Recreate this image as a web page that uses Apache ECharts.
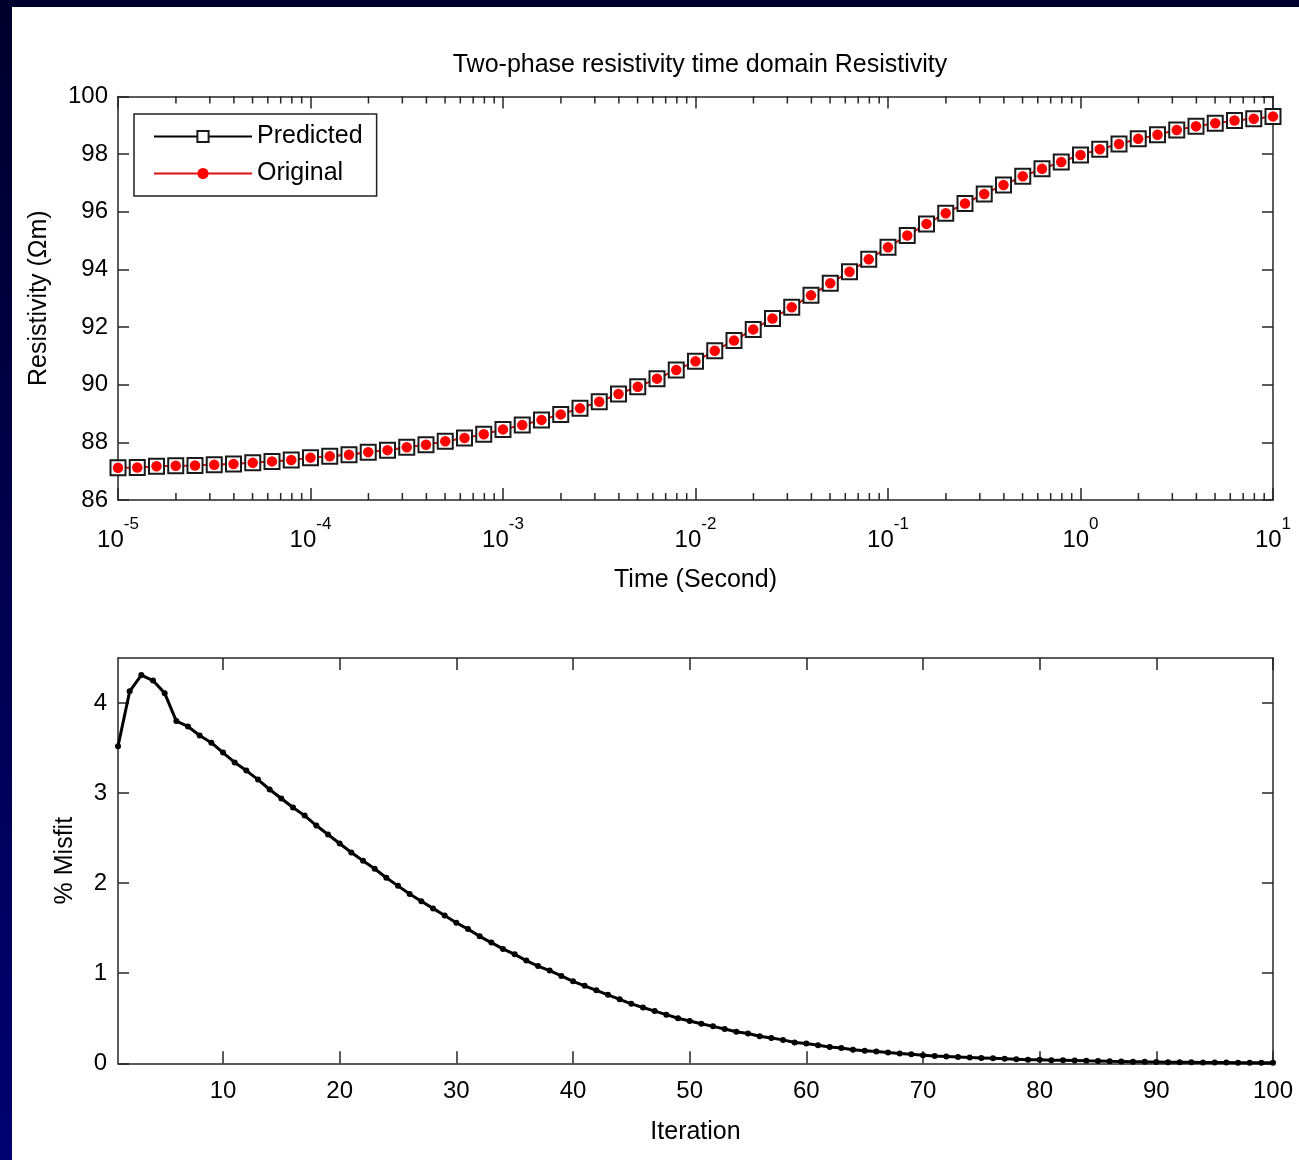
<!DOCTYPE html>
<html>
<head>
<meta charset="utf-8">
<title>Two-phase resistivity</title>
<script src="https://cdn.jsdelivr.net/npm/echarts@6/dist/echarts.min.js"></script>
<style>
  html, body {
    margin: 0;
    padding: 0;
    width: 1299px;
    height: 1160px;
    overflow: hidden;
    background: linear-gradient(#00002c, #000070);
  }
  #chart {
    position: absolute;
    left: 12px;
    top: 7px;
    width: 1287px;
    height: 1153px;
    background: #fff;
  }
</style>
</head>
<body>
<div id="chart"></div>
<script>
// time samples (s), 10 per decade
const times = [
  1.000e-5, 1.259e-5, 1.585e-5, 1.995e-5, 2.512e-5, 3.162e-5, 3.981e-5, 5.012e-5, 6.310e-5, 7.943e-5,
  1.000e-4, 1.259e-4, 1.585e-4, 1.995e-4, 2.512e-4, 3.162e-4, 3.981e-4, 5.012e-4, 6.310e-4, 7.943e-4,
  1.000e-3, 1.259e-3, 1.585e-3, 1.995e-3, 2.512e-3, 3.162e-3, 3.981e-3, 5.012e-3, 6.310e-3, 7.943e-3,
  1.000e-2, 1.259e-2, 1.585e-2, 1.995e-2, 2.512e-2, 3.162e-2, 3.981e-2, 5.012e-2, 6.310e-2, 7.943e-2,
  1.000e-1, 1.259e-1, 1.585e-1, 1.995e-1, 2.512e-1, 3.162e-1, 3.981e-1, 5.012e-1, 6.310e-1, 7.943e-1,
  1.000, 1.259, 1.585, 1.995, 2.512, 3.162, 3.981, 5.012, 6.310, 7.943,
  10.0
];
const original = [
  87.12, 87.13, 87.17, 87.19, 87.20, 87.22, 87.25, 87.29, 87.34, 87.39,
  87.47, 87.52, 87.57, 87.66, 87.73, 87.83, 87.92, 88.04, 88.15, 88.28,
  88.45, 88.60, 88.78, 88.97, 89.18, 89.41, 89.68, 89.93, 90.21, 90.51,
  90.81, 91.18, 91.53, 91.92, 92.30, 92.69, 93.10, 93.52, 93.92, 94.35,
  94.77, 95.18, 95.58, 95.95, 96.29, 96.62, 96.93, 97.23, 97.49, 97.73,
  97.97, 98.17, 98.35, 98.53, 98.67, 98.84, 98.97, 99.07, 99.17, 99.23,
  99.31
];
const predicted = [
  87.12, 87.13, 87.17, 87.19, 87.20, 87.22, 87.25, 87.29, 87.34, 87.39,
  87.47, 87.52, 87.57, 87.66, 87.73, 87.83, 87.92, 88.04, 88.15, 88.28,
  88.45, 88.60, 88.78, 88.97, 89.18, 89.41, 89.68, 89.93, 90.21, 90.51,
  90.81, 91.18, 91.53, 91.92, 92.30, 92.69, 93.10, 93.52, 93.92, 94.35,
  94.77, 95.18, 95.58, 95.95, 96.29, 96.62, 96.93, 97.23, 97.49, 97.73,
  97.97, 98.17, 98.35, 98.53, 98.67, 98.84, 98.97, 99.07, 99.17, 99.23,
  99.31
];
// % misfit per iteration (1..100)
const misfit = [
  3.52, 4.13, 4.31, 4.25, 4.11, 3.80, 3.74, 3.64, 3.56, 3.45,
  3.34, 3.25, 3.15, 3.04, 2.94, 2.84, 2.75, 2.64, 2.54, 2.44,
  2.34, 2.25, 2.16, 2.06, 1.97, 1.88, 1.80, 1.72, 1.64, 1.56,
  1.49, 1.41, 1.34, 1.27, 1.21, 1.14, 1.08, 1.03, 0.97, 0.91,
  0.86, 0.81, 0.76, 0.71, 0.66, 0.62, 0.58, 0.54, 0.50, 0.47,
  0.44, 0.41, 0.38, 0.35, 0.33, 0.30, 0.28, 0.26, 0.23, 0.22,
  0.20, 0.18, 0.17, 0.15, 0.14, 0.13, 0.12, 0.11, 0.10, 0.09,
  0.08, 0.075, 0.07, 0.065, 0.06, 0.055, 0.05, 0.045, 0.04, 0.04,
  0.035, 0.033, 0.03, 0.027, 0.025, 0.022, 0.02, 0.018, 0.016, 0.015,
  0.013, 0.012, 0.011, 0.01, 0.009, 0.008, 0.007, 0.006, 0.006, 0.005
];
const iterTicks = [10, 20, 30, 40, 50, 60, 70, 80, 90, 100];
const misfitTicks = [0, 1, 2, 3, 4];
const decades = [1e-5, 1e-4, 1e-3, 1e-2, 1e-1, 1];
const minorSteps = [2, 3, 4, 5, 6, 7, 8, 9];

const FONT = '"Liberation Sans", Arial, sans-serif';
const AXIS_COLOR = '#262626';

// minor ticks of the log axis
const minorTicks = [];
decades.forEach((d) => {
  minorSteps.forEach((m) => minorTicks.push([d * m]));
});

const chart = echarts.init(document.getElementById('chart'));

const lineStyle = { color: AXIS_COLOR, width: 1.5 };
const nameStyle = { fontFamily: FONT, fontSize: 25, color: '#000' };

function boxAxis(extra) {
  // common look for the axes that make the box
  return Object.assign({
    axisLine: { show: true, onZero: false, lineStyle: lineStyle },
    axisTick: { show: true, inside: true, length: 12, lineStyle: lineStyle },
    splitLine: { show: false },
    axisLabel: { show: false },
  }, extra);
}

const option = {
  animation: false,
  textStyle: { fontFamily: FONT, color: '#000' },
  title: {
    text: 'Two-phase resistivity time domain Resistivity',
    left: 683,
    top: 41,
    textAlign: 'center',
    textStyle: { fontFamily: FONT, fontSize: 25, fontWeight: 'normal', color: '#000' },
  },
  legend: {
    data: ['Predicted', 'Original'],
    orient: 'vertical',
    left: 122,
    top: 107,
    itemWidth: 98,
    itemHeight: 14,
    itemGap: 12,
    padding: [10, 14, 10, 19],
    borderColor: '#222',
    borderWidth: 1.5,
    backgroundColor: '#fff',
    selectedMode: false,
    textStyle: { fontFamily: FONT, fontSize: 25, color: '#000' },
  },
  grid: [
    { left: 106, top: 89.5, width: 1155, height: 403.5 },
    { left: 106, top: 651, width: 1155, height: 405.3 },
  ],
  xAxis: [
    boxAxis({
      type: 'log',
      logBase: 10,
      gridIndex: 0,
      min: 1e-5,
      max: 10,
      splitNumber: 6,
      axisLabel: {
        show: true,
        margin: 16,
        formatter: (v) => '{b|10}{s|' + Math.round(Math.log10(v)) + '}',
        rich: {
          b: { fontFamily: FONT, fontSize: 24, lineHeight: 36, verticalAlign: 'bottom', color: '#000' },
          s: { fontFamily: FONT, fontSize: 17, verticalAlign: 'top', color: '#000' },
        },
      },
      name: 'Time (Second)',
      nameLocation: 'middle',
      nameGap: 68,
      nameTextStyle: nameStyle,
    }),
    boxAxis({
      type: 'log',
      logBase: 10,
      gridIndex: 0,
      position: 'top',
      min: 1e-5,
      max: 10,
      splitNumber: 6,
    }),
    boxAxis({
      type: 'value',
      gridIndex: 1,
      min: 1,
      max: 100,
      axisTick: { show: true, inside: true, length: 12, lineStyle: lineStyle, customValues: iterTicks },
      axisLabel: { show: true, margin: 16, fontSize: 24, color: '#000', customValues: iterTicks },
      name: 'Iteration',
      nameLocation: 'middle',
      nameGap: 56,
      nameTextStyle: nameStyle,
    }),
    boxAxis({
      type: 'value',
      gridIndex: 1,
      position: 'top',
      min: 1,
      max: 100,
      axisTick: { show: true, inside: true, length: 12, lineStyle: lineStyle, customValues: iterTicks },
    }),
  ],
  yAxis: [
    boxAxis({
      type: 'value',
      gridIndex: 0,
      min: 86,
      max: 100,
      interval: 2,
      axisTick: { show: true, inside: true, length: 11, lineStyle: lineStyle },
      axisLabel: { show: true, margin: 10, fontSize: 24, color: '#000' },
      name: 'Resistivity (Ωm)',
      nameLocation: 'middle',
      nameGap: 66,
      nameTextStyle: nameStyle,
    }),
    boxAxis({
      type: 'value',
      gridIndex: 0,
      position: 'right',
      min: 86,
      max: 100,
      interval: 2,
      axisTick: { show: true, inside: true, length: 11, lineStyle: lineStyle },
    }),
    boxAxis({
      type: 'value',
      gridIndex: 1,
      min: 0,
      max: 4.5,
      axisTick: { show: true, inside: true, length: 11, lineStyle: lineStyle, customValues: misfitTicks },
      axisLabel: { show: true, margin: 11, fontSize: 24, color: '#000', customValues: misfitTicks },
      name: '% Misfit',
      nameLocation: 'middle',
      nameGap: 40,
      nameTextStyle: nameStyle,
    }),
    boxAxis({
      type: 'value',
      gridIndex: 1,
      position: 'right',
      min: 0,
      max: 4.5,
      axisTick: { show: true, inside: true, length: 11, lineStyle: lineStyle, customValues: misfitTicks },
    }),
  ],
  series: [
    {
      name: 'minor',
      type: 'custom',
      xAxisIndex: 0,
      yAxisIndex: 0,
      silent: true,
      clip: false,
      data: minorTicks,
      encode: { x: 0 },
      renderItem: (params, api) => {
        const bottom = api.coord([api.value(0), 86]);
        const top = api.coord([api.value(0), 100]);
        const style = { stroke: AXIS_COLOR, lineWidth: 1.5 };
        return {
          type: 'group',
          children: [
            { type: 'line', shape: { x1: bottom[0], y1: bottom[1], x2: bottom[0], y2: bottom[1] - 7 }, style: style },
            { type: 'line', shape: { x1: top[0], y1: top[1], x2: top[0], y2: top[1] + 7 }, style: style },
          ],
        };
      },
    },
    {
      name: 'Predicted',
      type: 'line',
      xAxisIndex: 0,
      yAxisIndex: 0,
      data: times.map((t, i) => [t, predicted[i]]),
      symbol: 'emptyRect',
      symbolSize: 15,
      clip: false,
      lineStyle: { color: '#000', width: 1.5 },
      itemStyle: { color: '#1a1a1a', borderWidth: 2.2 },
    },
    {
      name: 'Original',
      type: 'line',
      xAxisIndex: 0,
      yAxisIndex: 0,
      data: times.map((t, i) => [t, original[i]]),
      symbol: 'circle',
      symbolSize: 10.5,
      clip: false,
      lineStyle: { color: '#e01010', width: 1.8 },
      itemStyle: { color: '#ff0000' },
    },
    {
      name: 'Misfit',
      type: 'line',
      xAxisIndex: 2,
      yAxisIndex: 2,
      data: misfit.map((v, i) => [i + 1, v]),
      symbol: 'circle',
      symbolSize: 6,
      clip: false,
      lineStyle: { color: '#000', width: 3 },
      itemStyle: { color: '#000' },
    },
  ],
};

chart.setOption(option);
</script>
</body>
</html>
